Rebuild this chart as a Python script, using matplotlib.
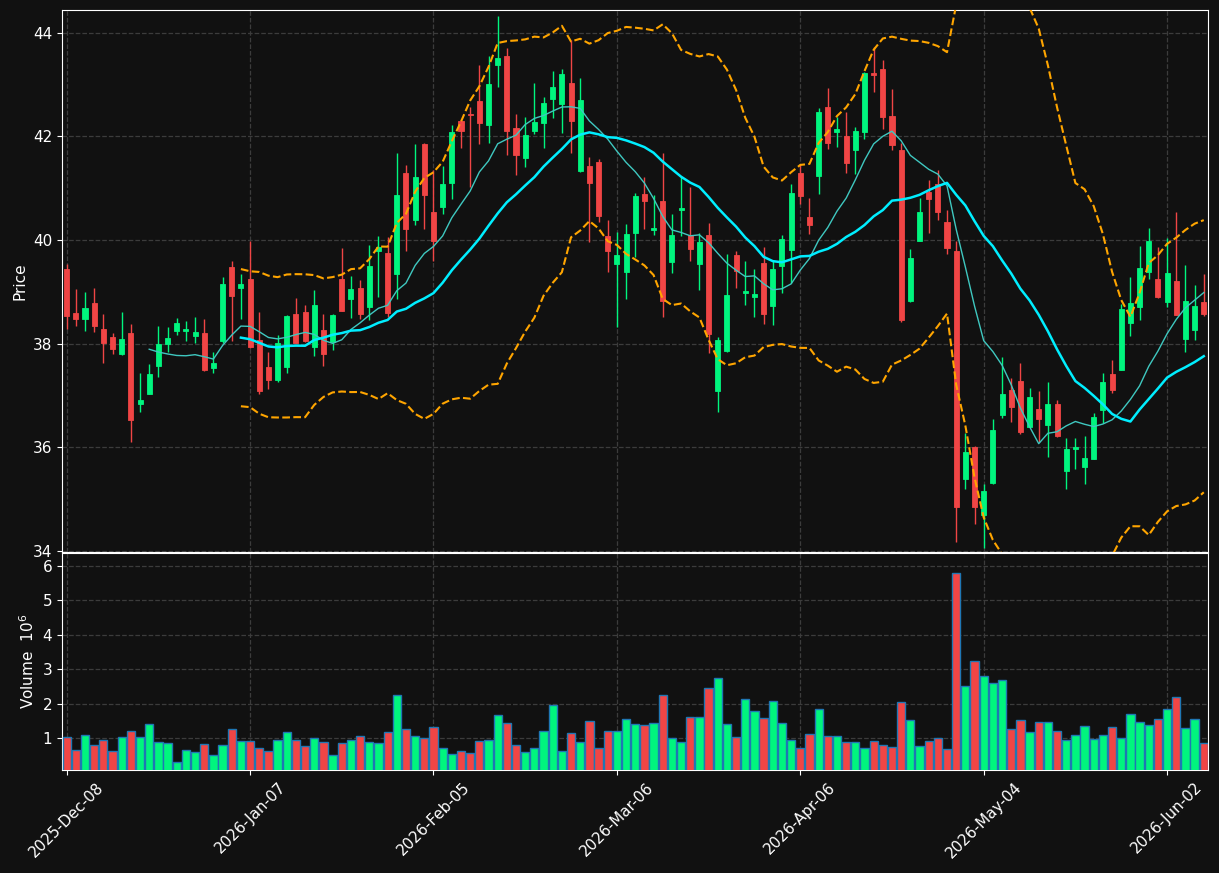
import numpy as np
import pandas as pd
import matplotlib
matplotlib.use("Agg")
import matplotlib.pyplot as plt

# trading days (NYSE holidays skipped)
holidays = ["2025-12-25", "2026-01-01", "2026-01-19", "2026-02-16", "2026-04-03", "2026-05-25"]
dates = pd.bdate_range("2025-12-08", periods=125, freq="C", holidays=holidays)

opens = [39.44, 38.59, 38.47, 38.79, 38.29, 38.13, 37.81, 38.21, 36.84, 37.03,
         37.57, 38.00, 38.25, 38.25, 38.15, 38.21, 37.53, 38.06, 39.48, 39.08,
         39.25, 38.07, 37.55, 37.29, 37.55, 38.58, 38.61, 37.93, 38.27, 38.03,
         39.25, 38.86, 39.08, 38.71, 39.78, 39.75, 39.35, 41.30, 40.39, 41.86,
         40.54, 40.63, 41.11, 42.30, 42.43, 42.69, 42.22, 43.37, 43.56, 42.17,
         41.59, 42.11, 42.25, 42.73, 42.63, 43.03, 41.34, 41.43, 41.51, 40.08,
         39.53, 39.39, 40.13, 40.89, 40.20, 40.76, 39.57, 40.58, 40.09, 39.53,
         40.10, 37.08, 37.86, 39.71, 38.97, 38.91, 39.55, 38.73, 39.49, 39.81,
         41.30, 40.45, 41.23, 42.57, 42.09, 42.01, 41.73, 42.08, 43.23, 43.31,
         42.40, 41.74, 38.83, 39.99, 40.93, 41.08, 40.35, 39.79, 35.38, 36.01,
         34.69, 35.31, 36.63, 37.11, 37.28, 36.40, 36.74, 36.43, 36.84, 35.55,
         35.96, 35.63, 35.78, 36.73, 37.42, 37.50, 38.39, 38.70, 39.39, 39.25,
         38.81, 39.21, 38.10, 38.27, 38.81]
highs = [39.54, 39.05, 38.99, 39.07, 38.57, 38.20, 38.61, 38.38, 37.43, 37.60,
         38.34, 38.32, 38.49, 38.44, 38.52, 38.48, 37.84, 39.28, 39.60, 39.35,
         39.99, 38.62, 37.84, 38.16, 38.56, 38.88, 38.74, 39.03, 38.58, 38.58,
         39.84, 39.30, 39.23, 39.90, 40.08, 40.06, 41.68, 41.44, 41.85, 41.87,
         41.36, 41.43, 42.22, 42.31, 42.57, 43.38, 43.55, 44.33, 43.70, 42.43,
         42.37, 43.03, 42.77, 43.27, 43.30, 43.86, 43.13, 41.60, 41.56, 40.39,
         40.16, 40.31, 40.91, 41.21, 40.87, 41.68, 40.50, 41.23, 41.02, 40.14,
         40.33, 38.13, 39.73, 39.78, 39.59, 39.44, 39.86, 39.60, 40.10, 41.08,
         41.47, 40.81, 42.55, 42.93, 42.38, 42.47, 42.19, 43.25, 43.73, 43.47,
         42.91, 41.87, 39.82, 40.82, 41.15, 41.36, 40.58, 39.98, 36.27, 36.03,
         35.29, 36.54, 37.74, 37.34, 37.62, 37.14, 37.08, 37.26, 36.92, 36.18,
         36.18, 36.21, 36.66, 37.44, 37.68, 38.77, 39.28, 39.88, 40.23, 39.87,
         40.04, 40.54, 39.52, 39.13, 39.35]
lows = [38.28, 38.34, 38.24, 38.22, 37.62, 37.81, 37.78, 36.11, 36.69, 37.02,
        37.35, 37.84, 38.16, 38.06, 38.01, 37.47, 37.44, 38.01, 38.06, 38.47,
        37.92, 37.03, 37.13, 37.27, 37.43, 38.01, 38.04, 37.77, 37.56, 37.87,
        38.63, 38.49, 38.47, 38.45, 38.90, 38.52, 38.86, 39.78, 40.30, 40.22,
        39.59, 40.50, 40.79, 41.77, 41.03, 41.86, 41.88, 42.95, 41.65, 41.25,
        41.41, 42.04, 41.77, 42.35, 42.06, 41.68, 41.32, 39.97, 40.35, 39.39,
        38.32, 38.86, 39.68, 40.22, 40.09, 38.51, 39.36, 40.08, 39.59, 39.04,
        37.83, 36.68, 37.84, 39.08, 38.74, 38.52, 38.38, 38.36, 38.97, 39.18,
        40.69, 40.11, 40.89, 41.75, 41.79, 41.29, 41.28, 41.95, 42.85, 42.14,
        41.73, 38.41, 38.80, 39.98, 40.13, 40.38, 39.73, 34.17, 35.19, 34.53,
        34.05, 35.30, 36.57, 36.49, 36.25, 36.39, 36.11, 35.82, 36.20, 35.19,
        35.59, 35.29, 35.77, 36.46, 37.05, 37.49, 38.14, 38.45, 39.25, 38.88,
        38.70, 38.55, 37.84, 38.07, 38.53]
closes = [38.54, 38.48, 38.69, 38.35, 38.02, 37.89, 38.09, 36.53, 36.92, 37.42,
          38.00, 38.11, 38.40, 38.29, 38.23, 37.50, 37.63, 39.15, 38.93, 39.16,
          37.94, 37.08, 37.29, 38.02, 38.54, 38.02, 38.05, 38.75, 37.81, 38.56,
          38.64, 39.06, 38.58, 39.50, 39.87, 38.59, 40.87, 40.22, 41.22, 40.87,
          39.99, 41.09, 42.09, 42.11, 42.42, 42.25, 43.02, 43.52, 42.11, 41.65,
          42.03, 42.28, 42.65, 42.96, 43.21, 42.29, 42.71, 41.10, 40.47, 39.78,
          39.71, 40.12, 40.85, 40.76, 40.24, 38.83, 40.10, 40.61, 39.82, 39.97,
          38.19, 38.07, 38.94, 39.41, 39.02, 38.96, 38.58, 39.44, 40.02, 40.91,
          40.86, 40.30, 42.47, 41.88, 42.15, 41.48, 42.11, 43.22, 43.18, 42.38,
          41.84, 38.45, 39.66, 40.54, 40.80, 40.55, 39.84, 34.84, 35.91, 34.84,
          35.16, 36.34, 37.03, 36.77, 36.30, 36.97, 36.55, 36.84, 36.21, 35.97,
          36.01, 35.80, 36.59, 37.26, 37.11, 38.67, 38.79, 39.46, 39.98, 38.90,
          39.37, 38.56, 38.83, 38.73, 38.58]
# volume in millions
volumes = [1.02, 0.64, 1.08, 0.79, 0.93, 0.61, 1.02, 1.19, 1.02, 1.40,
           0.875, 0.85, 0.29, 0.64, 0.58, 0.82, 0.50, 0.79, 1.25, 0.90,
           0.90, 0.70, 0.61, 0.93, 1.17, 0.93, 0.76, 0.99, 0.875, 0.50,
           0.85, 0.93, 1.05, 0.875, 0.85, 1.17, 2.24, 1.25, 1.05, 0.99,
           1.31, 0.70, 0.53, 0.61, 0.56, 0.90, 0.93, 1.66, 1.43, 0.79,
           0.58, 0.70, 1.19, 1.95, 0.61, 1.14, 0.875, 1.49, 0.70, 1.19,
           1.19, 1.54, 1.40, 1.37, 1.43, 2.24, 0.99, 0.875, 1.60, 1.60,
           2.44, 2.74, 1.40, 1.02, 2.13, 1.78, 1.57, 2.07, 1.43, 0.93,
           0.70, 1.11, 1.83, 1.05, 1.05, 0.875, 0.875, 0.70, 0.90, 0.79,
           0.73, 2.04, 1.51, 0.76, 0.90, 0.99, 0.67, 5.79, 2.50, 3.23,
           2.79, 2.59, 2.68, 1.25, 1.51, 1.17, 1.46, 1.46, 1.19, 0.93,
           1.08, 1.34, 0.96, 1.08, 1.31, 0.99, 1.69, 1.46, 1.37, 1.54,
           1.83, 2.18, 1.28, 1.54, 0.85]

df = pd.DataFrame({"Open": opens, "High": highs, "Low": lows,
                   "Close": closes, "Volume": volumes}, index=dates)

ma10 = df["Close"].rolling(10).mean()
ma20 = df["Close"].rolling(20).mean()
sd20 = df["Close"].rolling(20).std(ddof=0)
bb_up = ma20 + 2 * sd20
bb_lo = ma20 - 2 * sd20

UP = "#00f57e"
DOWN = "#f04545"
BG = "#111111"
GRID = "#3c3c3c"

plt.rcParams.update({
    "figure.facecolor": BG, "axes.facecolor": BG, "axes.edgecolor": "white",
    "text.color": "white", "axes.labelcolor": "white",
    "xtick.color": "white", "ytick.color": "white", "font.size": 11,
})

fig = plt.figure(figsize=(12.19, 8.73), dpi=100)
W, H = 1219, 873
ax = fig.add_axes([62 / W, (H - 552) / H, 1146 / W, 542 / H])
axv = fig.add_axes([62 / W, (H - 770) / H, 1146 / W, 217 / H], sharex=ax)

x = np.arange(len(df))
up = df["Close"] >= df["Open"]
colors = np.where(up, UP, DOWN)

# candles
ax.vlines(x, df["Low"], df["High"], colors=colors, linewidth=1, zorder=3)
body_lo = np.minimum(df["Open"], df["Close"])
body_h = np.maximum(np.abs(df["Close"] - df["Open"]), 0.02)
ax.bar(x, body_h, bottom=body_lo, width=0.55, color=colors, edgecolor=colors,
       linewidth=0.6, zorder=4)

ax.plot(x, ma10, color="#3fc8c0", linewidth=1, zorder=5)
ax.plot(x, ma20, color="#00eeff", linewidth=1.8, zorder=5)
ax.plot(x, bb_up, color="#ffa500", linewidth=1.5, linestyle="--", zorder=5)
ax.plot(x, bb_lo, color="#ffa500", linewidth=1.5, linestyle="--", zorder=5)

ax.set_ylim(33.98, 44.44)
ax.set_yticks([34, 36, 38, 40, 42, 44])
ax.set_ylabel("Price")
ax.grid(True, color=GRID, linestyle="--", linewidth=0.9)
ax.set_axisbelow(True)
ax.tick_params(axis="x", labelbottom=False)

# volume
axv.bar(x, df["Volume"], width=0.9, color=colors, edgecolor="#1f77b4", linewidth=1, zorder=3)
axv.set_ylim(0.07, 6.38)
axv.set_yticks([1, 2, 3, 4, 5, 6])
axv.set_ylabel("Volume  $10^{6}$")
axv.grid(True, color=GRID, linestyle="--", linewidth=0.9)
axv.set_axisbelow(True)

tick_pos = x[::20]
axv.set_xticks(tick_pos)
axv.set_xticklabels([d.strftime("%Y-%b-%d") for d in df.index[tick_pos]], rotation=45)
axv.set_xlim(-0.51, 124.46)

fig.savefig("out.png", dpi=100, facecolor=BG)
